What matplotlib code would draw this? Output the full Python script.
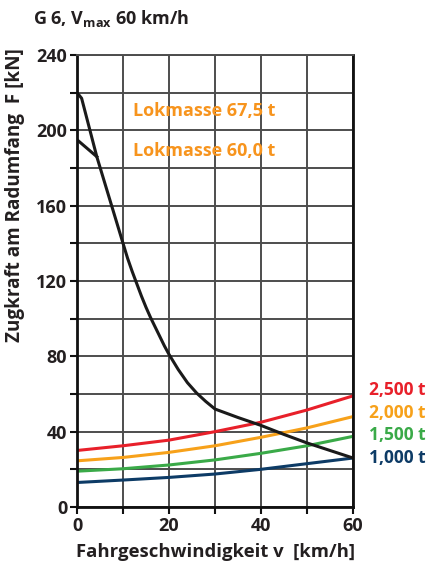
import numpy as np
import matplotlib.pyplot as plt
from matplotlib.ticker import MultipleLocator

# Zugkraftkurven (Lok)
v_675 = [0, 1, 4.3, 10, 11, 12, 13, 14, 15, 16, 17, 18, 19, 20, 22, 24, 26, 28, 30,
         35, 40, 45, 50, 55, 60]
f_675 = [220, 217, 186, 140, 132, 125, 118.5, 112, 106, 100.5, 95.5, 90.5, 85.5, 81,
         73, 66, 60.5, 56, 52, 47.5, 43.3, 38.5, 34, 30, 26]
v_600 = [0, 4.3]
f_600 = [195, 186]

# Zugwiderstand fuer Wagenzuege
v_train = [0, 10, 20, 30, 40, 50, 60]
f_2500 = [30, 32.5, 35.5, 40, 45, 51.5, 59]
f_2000 = [24.5, 26.3, 29, 32.5, 37, 42, 48]
f_1500 = [19, 20.3, 22.3, 25, 28.5, 32.5, 37.5]
f_1000 = [13, 14.3, 15.7, 17.5, 20, 23, 26]

train_labels = ['2,500 t', '2,000 t', '1,500 t', '1,000 t']
train_colors = ['#e8202a', '#f7a11a', '#3aaa48', '#0d3b66']
lok_labels = ['Lokmasse 67,5 t', 'Lokmasse 60,0 t']
orange = '#f7941d'
dark = '#231f20'

plt.rcParams['font.family'] = ['Open Sans', 'DejaVu Sans']
plt.rcParams['font.weight'] = 'bold'

fig = plt.figure(figsize=(4.26, 5.69), dpi=100)
ax = fig.add_axes([0.1808, 0.1090, 0.6479, 0.7944])

ax.set_xlim(0, 60)
ax.set_ylim(0, 240)
ax.xaxis.set_major_locator(MultipleLocator(20))
ax.xaxis.set_minor_locator(MultipleLocator(10))
ax.yaxis.set_major_locator(MultipleLocator(40))
ax.yaxis.set_minor_locator(MultipleLocator(20))
ax.grid(which='both', color='#4d4d4d', lw=1.4)
ax.set_axisbelow(True)

for ys, c in zip([f_2500, f_2000, f_1500, f_1000], train_colors):
    ax.plot(v_train, ys, color=c, lw=2.2)
ax.plot(v_600, f_600, color='#1a1a1a', lw=2.2)
ax.plot(v_675, f_675, color='#1a1a1a', lw=2.2)

label_y = [62, 50, 38, 26]
for lab, y, c in zip(train_labels, label_y, train_colors):
    ax.text(63.5, y, lab, color=c, fontsize=12.5, fontweight='bold', va='center', clip_on=False)

ax.text(12.2, 210, lok_labels[0], color=orange, fontsize=13, fontweight='bold', va='center')
ax.text(12.2, 189, lok_labels[1], color=orange, fontsize=13, fontweight='bold', va='center')

for s in ['left', 'bottom', 'right']:
    ax.spines[s].set_color('#111111')
    ax.spines[s].set_linewidth(2)
ax.spines['top'].set_color('#4d4d4d')
ax.spines['top'].set_linewidth(1.4)

ax.tick_params(which='both', direction='out', length=5, width=1.5, color='#111111',
               labelsize=13, labelcolor=dark, pad=2)
for t in ax.get_xticklabels() + ax.get_yticklabels():
    t.set_fontweight('bold')

ax.set_xlabel('Fahrgeschwindigkeit v  [km/h]', fontsize=13.3, fontweight='bold', color=dark, labelpad=6)
ax.set_ylabel('Zugkraft am Radumfang  F [kN]', fontsize=13.6, fontweight='bold', color=dark)
ax.yaxis.set_label_coords(-0.188, 0.69)

fig.text(0.077, 0.968, r'G 6, V$_{\mathregular{max}}$ 60 km/h', fontsize=13,
         fontweight='bold', color=dark, va='center')

fig.savefig('out.png', dpi=100)
